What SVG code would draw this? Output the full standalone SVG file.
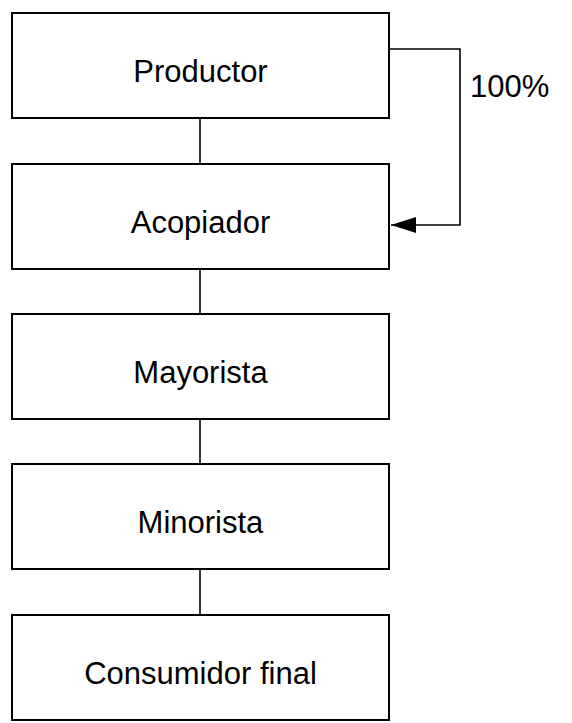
<svg xmlns="http://www.w3.org/2000/svg" width="572" height="723" viewBox="0 0 572 723">
<style>
.box{fill:#fff;stroke:#000;stroke-width:2}
.lbl{font-family:"Liberation Sans",Arial,sans-serif;font-size:31px;fill:#000;text-anchor:middle}
.ln{fill:none;stroke:#000;stroke-width:1.6}
</style>
<defs>
<marker id="ah" markerUnits="userSpaceOnUse" markerWidth="26" markerHeight="16" refX="25" refY="8" orient="auto">
<path d="M0,0 L25,8 L0,16 z" fill="#000"/>
</marker>
</defs>
<rect width="572" height="723" fill="#fff"/>
<g id="connectors">
<line class="ln" x1="200" y1="119" x2="200" y2="164"/>
<line class="ln" x1="200" y1="269" x2="200" y2="315"/>
<line class="ln" x1="200" y1="419" x2="200" y2="464"/>
<line class="ln" x1="200" y1="569" x2="200" y2="615"/>
<path class="ln" d="M389,49 H460 V225 H391" marker-end="url(#ah)"/>
<text class="lbl" x="470" y="97" style="text-anchor:start">100%</text>
</g>
<g id="productor"><rect class="box" x="12" y="13" width="377" height="105"/><text class="lbl" x="200.5" y="82">Productor</text></g>
<g id="acopiador"><rect class="box" x="12" y="164" width="377" height="105"/><text class="lbl" x="200.5" y="233">Acopiador</text></g>
<g id="mayorista"><rect class="box" x="12" y="314" width="377" height="105"/><text class="lbl" x="200.5" y="383">Mayorista</text></g>
<g id="minorista"><rect class="box" x="12" y="464" width="377" height="105"/><text class="lbl" x="200.5" y="533">Minorista</text></g>
<g id="consumidor"><rect class="box" x="12" y="615" width="377" height="105"/><text class="lbl" x="200.5" y="684">Consumidor final</text></g>
</svg>
